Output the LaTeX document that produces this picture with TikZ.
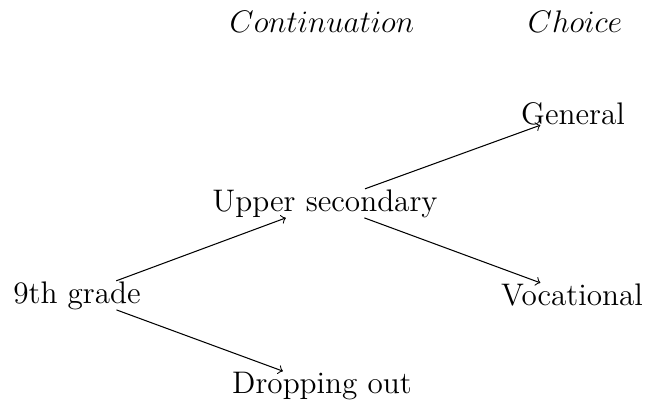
\documentclass[tikz,border=0pt]{standalone}
\usetikzlibrary{arrows}
\begin{document}
\begin{tikzpicture}[x=0.3846pt, y=-0.3846pt,
  every node/.style={font=\fontsize{12}{14}\selectfont},
  stage/.style={inner sep=0pt, anchor=base},
  head/.style={anchor=base},
  link/.style={->, line width=0.4pt}]
  \useasboundingbox (0,0) rectangle (646,405);
  % column headings
  \node[head] (cont) at (322,33) {$Continuation$};
  \node[head] (choice) at (575,33) {$Choice$};
  % decision tree
  \node[stage] (grade) at (77,303) {9th grade};
  \node[stage] (upper) at (325,211) {Upper secondary};
  \node[stage] (drop) at (322,393) {Dropping out};
  \node[stage] (gen) at (573,124) {General};
  \node[stage] (voc) at (572,305) {Vocational};
  \draw[link] (grade) -- (upper);
  \draw[link] (grade) -- (drop);
  \draw[link] (upper) -- (gen);
  \draw[link] (upper) -- (voc);
\end{tikzpicture}
\end{document}
